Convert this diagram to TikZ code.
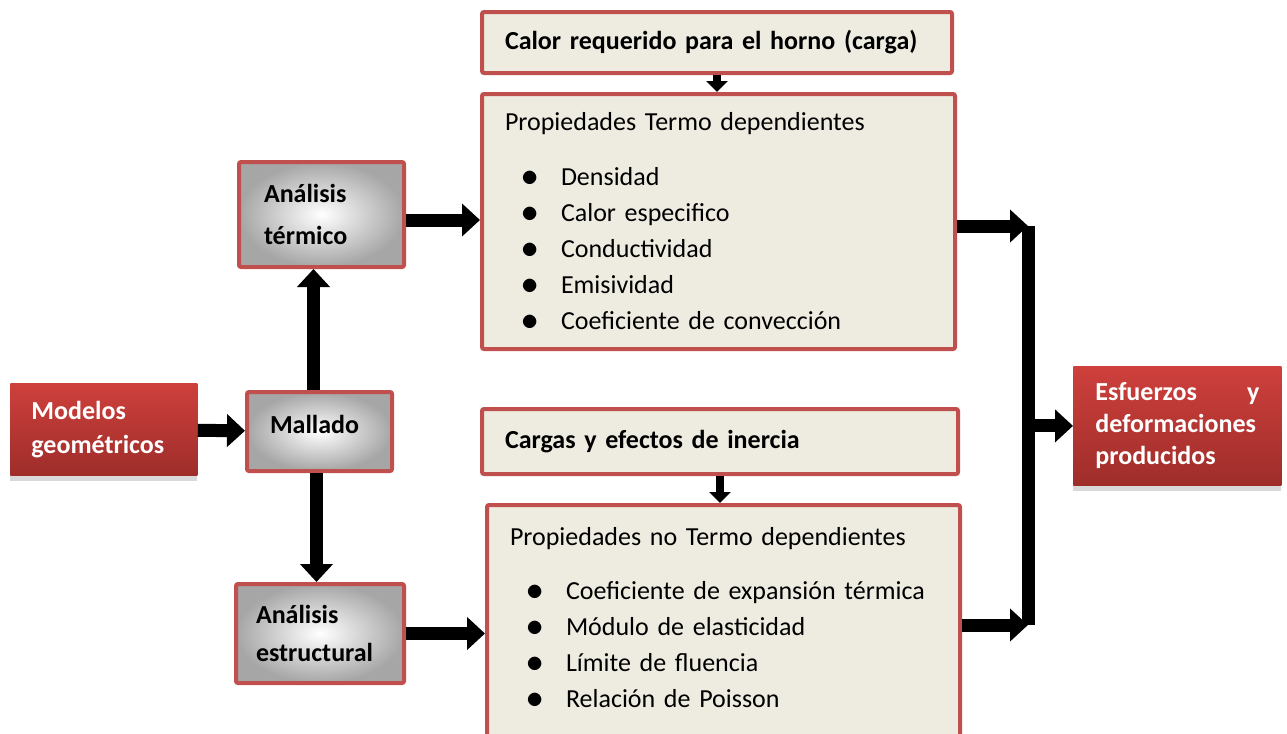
\documentclass[tikz,border=0pt]{standalone}
\usepackage{fontspec}
\setmainfont{Carlito}
\usetikzlibrary{arrows.meta}
\usetikzlibrary{shadows}
\definecolor{rojoborde}{RGB}{192,80,77}
\definecolor{crema}{RGB}{238,236,225}
\definecolor{rojoalto}{RGB}{206,64,60}
\definecolor{rojobajo}{RGB}{158,45,42}
\newcommand{\letra}{\fontsize{13pt}{18pt}\selectfont}
\newcommand{\punto}[1]{\hspace*{8pt}\makebox[20pt][l]{\raisebox{-0.5pt}{\fontsize{17pt}{18pt}\selectfont$\bullet$}}#1}
\tikzset{
    caja/.style={draw=rojoborde, line width=2pt, fill=crema, rounded corners=1pt,
        align=left, anchor=north west, inner xsep=11.5pt, font=\letra},
    gris/.style={draw=rojoborde, line width=2pt, inner color=white, outer color=black!35,
        rounded corners=1pt, align=left, anchor=north west, font=\letra\bfseries},
    roja/.style={top color=rojoalto, bottom color=rojobajo, text=white, align=left,
        anchor=north west, font=\letra\bfseries,
        drop shadow={shadow xshift=0pt, shadow yshift=-3pt, opacity=0.3}},
    flecha/.style={line width=6.5pt, -{Triangle[length=9pt,width=16pt]}},
    flechita/.style={line width=4pt, -{Triangle[length=5.5pt,width=10.5pt]}},
    barra/.style={line width=6.5pt}
}

\begin{document}
\begin{tikzpicture}[x=0.5pt,y=-0.5pt]
    \useasboundingbox (0,0) rectangle (1287,734);
    \node[caja, minimum width=235pt, minimum height=30.5pt, text width=212pt, font=\letra\bfseries]
        (calor) at (480,10) {Calor requerido para el horno (carga)};
    \node[caja, minimum width=236.5pt, minimum height=127.5pt, text width=213.5pt]
        (termo) at (480,92) {Propiedades Termo dependientes\\[9.5pt]
        \punto{Densidad}\\ \punto{Calor especifico}\\ \punto{Conductividad}\\
        \punto{Emisividad}\\ \punto{Coeficiente de convección}};
    \node[caja, minimum width=238pt, minimum height=32.5pt, text width=215pt, font=\letra\bfseries]
        (cargas) at (480,407) {Cargas y efectos de inercia};
    \node[caja, minimum width=236.5pt, inner ysep=11pt, text width=213.5pt]
        (notermo) at (485,503) {Propiedades no Termo dependientes\\[9pt]
        \punto{Coeficiente de expansión térmica}\\ \punto{Módulo de elasticidad}\\
        \punto{Límite de fluencia}\\ \punto{Relación de Poisson\rule[-8pt]{0pt}{8pt}}};

    \node[gris, minimum width=82.5pt, minimum height=52.5pt, inner xsep=12.5pt, text width=57.5pt]
        (termico) at (237,160) {Análisis\\[3pt] térmico};
    \node[gris, minimum width=72.5pt, minimum height=39.5pt, inner xsep=11.5pt, text width=49.5pt]
        (mallado) at (245,390) {Mallado\rule[-7.5pt]{0pt}{0pt}};
    \node[gris, minimum width=84pt, minimum height=49.5pt, inner xsep=10pt, text width=64pt]
        (estructural) at (234,582) {Análisis\\[1pt] estructural};

    \node[roja, minimum width=93.5pt, minimum height=46pt, inner xsep=10.5pt, text width=72.5pt]
        (modelos) at (10,383) {Modelos\\[-1pt] geométricos};
    \node[roja, minimum width=104pt, minimum height=59.5pt, inner xsep=11pt, text width=82pt]
        (esfuerzos) at (1073,366) {Esfuerzos\hspace{0pt plus 1filll}y\\[-2pt] deformaciones\\[-2pt] producidos};

    \coordinate (busa) at (1028,226);
    \coordinate (busb) at (1028,625);

    \draw[flecha] (modelos) -- (mallado);
    \draw[flecha] ([xshift=-3pt]mallado.north) -- ([xshift=-3pt]mallado.north |- termico.south);
    \draw[flecha] ([xshift=-1.5pt]mallado.south) -- ([xshift=-1.5pt]mallado.south |- estructural.north);
    \draw[flecha] ([yshift=-2.75pt]termico.east) -- ([yshift=-2.75pt]termico.east -| termo.west);
    \draw[flecha] (estructural) -- (estructural -| notermo.west);
    \draw[flechita] (calor.south) -- (calor.south |- termo.north);
    \draw[flechita] (cargas.south) -- (cargas.south |- notermo.north);
    \draw[barra] (busa) -- (busb);
    \draw[flecha] (termo.east |- busa) -- (busa);
    \draw[flecha] (notermo.east |- busb) -- (busb);
    \draw[flecha] (esfuerzos.west -| busa) -- (esfuerzos.west);
\end{tikzpicture}
\end{document}
